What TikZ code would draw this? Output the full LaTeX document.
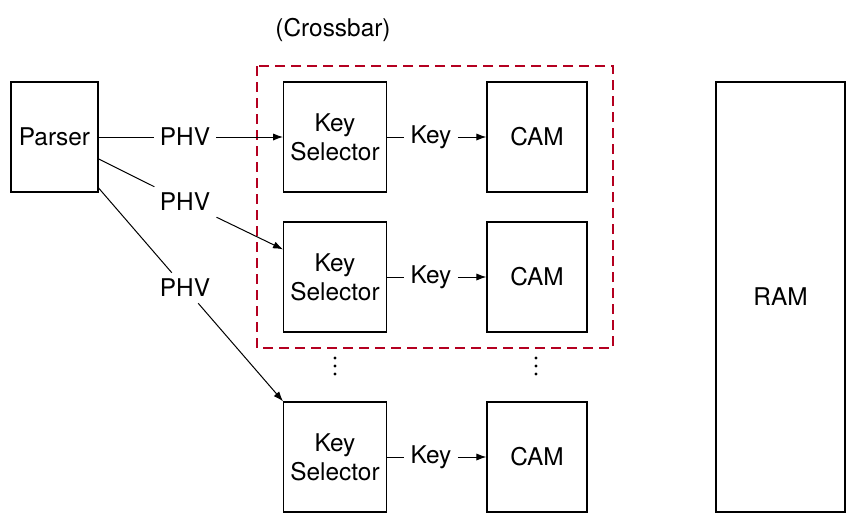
\documentclass[tikz,border=0pt]{standalone}
\usepackage{fontspec}
\setmainfont{TeX Gyre Heros}
\usetikzlibrary{arrows.meta, positioning}
\definecolor{crossred}{RGB}{180,0,32}

\begin{document}
\begin{tikzpicture}[x=0.5pt, y=-0.5pt, font=\fontsize{12.2}{14.4}\selectfont,
    blk/.style={draw, line width=0.65pt, align=center, minimum width=50pt, minimum height=55pt},
    lbl/.style={inner sep=3pt},
    arr/.style={-{Latex[length=5pt,width=3.6pt]}},
    wire/.style={line width=0.5pt}]
    \useasboundingbox (0,0) rectangle (857,525);

    % Crossbar frame
    \draw[crossred, line width=1pt, dash pattern=on 5pt off 3pt] (257,66) rectangle (613,348);
    \node (crossbar) at (333,30) {(Crossbar)};

    % Blocks
    \node[blk, minimum width=43.5pt] (parser) at (54.5,137) {Parser};
    \node[blk, minimum width=64.5pt, minimum height=215pt] (ram) at (780.5,297) {RAM};
    \foreach \i/\y in {1/137, 2/277, 3/457} {
      \node[blk] (ks\i) at (335,\y) {Key\\Selector};
      \node[blk] (cam\i) at (537,\y) {CAM};
      \node[lbl] (key\i) at (431,\y) {Key};
      \draw[wire] (ks\i) -- (key\i);
      \draw[wire, arr] (key\i) -- (cam\i);
    }

    % PHV from parser to the key selectors
    \node[lbl] (phv1) at (185,137) {PHV};
    \node[lbl] (phv2) at (185,202) {PHV};
    \node[lbl] (phv3) at (185,288) {PHV};
    \draw[wire] (parser) -- (phv1);
    \draw[wire] (parser) -- (phv2);
    \draw[wire] (parser) -- (phv3);
    \draw[wire, arr] (phv1) -- (ks1);
    \draw[wire, arr] (phv2) -- (ks2.152);
    \draw[wire, arr] (phv3) -- (ks3.north west);

    % More rows
    \foreach \x in {335,536}
      \foreach \y in {358,366,374}
        \fill (\x,\y) circle (0.8pt);
\end{tikzpicture}
\end{document}
